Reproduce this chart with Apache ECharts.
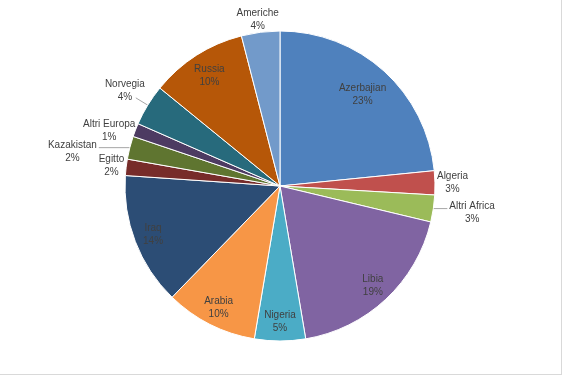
<!DOCTYPE html>
<html>
<head>
<meta charset="utf-8">
<script src="https://cdn.jsdelivr.net/npm/echarts@6/dist/echarts.min.js"></script>
<style>
  html, body { margin: 0; padding: 0; background: #fff; }
  #chart { width: 561px; height: 374px; border-right: 1px solid #d9d9d9; border-bottom: 1px solid #d9d9d9; }
</style>
</head>
<body>
<div id="chart"></div>
<script>
// clockwise from 12 o'clock
const countries = ['Azerbajian', 'Algeria', 'Altri Africa', 'Libia', 'Nigeria', 'Arabia', 'Iraq',
  'Egitto', 'Kazakistan', 'Altri Europa', 'Norvegia', 'Russia', 'Americhe']
const shares = [23.4, 2.5, 2.8, 18.6, 5.3, 9.6, 13.8, 1.7, 2.4, 1.4, 4.3, 10.1, 4.0]
const colors = ['#4f81bd', '#c0504d', '#9bbb59', '#8064a2', '#4bacc6', '#f79646', '#2c4d75',
  '#772c2a', '#5f7530', '#4d3b62', '#276a7c', '#b65708', '#729aca']

// label placement (Excel-like)
const insideLabel = ['Azerbajian', 'Libia', 'Nigeria', 'Arabia', 'Iraq', 'Russia']
const innerDist = { Azerbajian: 123, Russia: 131 }   // default 136
const outerDrop = { 'Altri Europa': 5 }               // extra vertical nudge
const leaders = { 'Altri Africa': ['h', 14], 'Kazakistan': ['h', 31], 'Norvegia': ['r', 14] }

const CX = 280, CY = 186, R = 155

const total = shares.reduce((a, b) => a + b, 0)
const midAngles = []
let acc = 0
shares.forEach(v => { midAngles.push((acc + v / 2) / total * 2 * Math.PI); acc += v })

const chart = echarts.init(document.getElementById('chart'))

const placeLabel = (params) => {
  const i = params.dataIndex
  const name = countries[i]
  const s = Math.sin(midAngles[i]), c = Math.cos(midAngles[i])
  const w = params.labelRect.width, h = params.labelRect.height
  const base = { align: 'center', verticalAlign: 'middle' }

  if (insideLabel.includes(name)) {
    const d = innerDist[name] || 136
    return { ...base, x: CX + d * s, y: CY - d * c }
  }
  const ex = CX + R * s, ey = CY - R * c
  const lead = leaders[name]
  if (!lead) {
    return { ...base, x: ex + s * (w / 2 + 2), y: ey - c * h / 2 + (outerDrop[name] || 0) }
  }
  const [mode, len] = lead
  if (mode === 'h') {
    const sign = s < 0 ? -1 : 1
    const lx = ex + sign * len
    return { ...base, x: lx + sign * (w / 2 + 2), y: ey + h / 6, labelLinePoints: [[ex, ey], [lx, ey]] }
  }
  const lx = ex + s * len, ly = ey - c * len
  return { ...base, x: lx + s * w * 0.32, y: ly - c * h / 2, labelLinePoints: [[ex, ey], [lx, ly]] }
}

const option = {
  animation: false,
  color: colors,
  series: [{
    type: 'pie',
    center: [CX, CY],
    radius: R,
    startAngle: 90,
    clockwise: true,
    avoidLabelOverlap: false,
    itemStyle: { borderColor: '#fff', borderWidth: 1 },
    label: {
      position: 'outside',
      fontFamily: 'Liberation Sans',
      fontSize: 10,
      color: '#404040',
      lineHeight: 13,
      formatter: (p) => `${p.name}\n${Math.round(p.percent)}%`
    },
    labelLine: { lineStyle: { color: '#a6a6a6', width: 1 } },
    labelLayout: placeLabel,
    data: countries.map((name, i) => ({
      name,
      value: shares[i],
      labelLine: { show: !!leaders[name] }
    }))
  }]
}
chart.setOption(option)
</script>
</body>
</html>
